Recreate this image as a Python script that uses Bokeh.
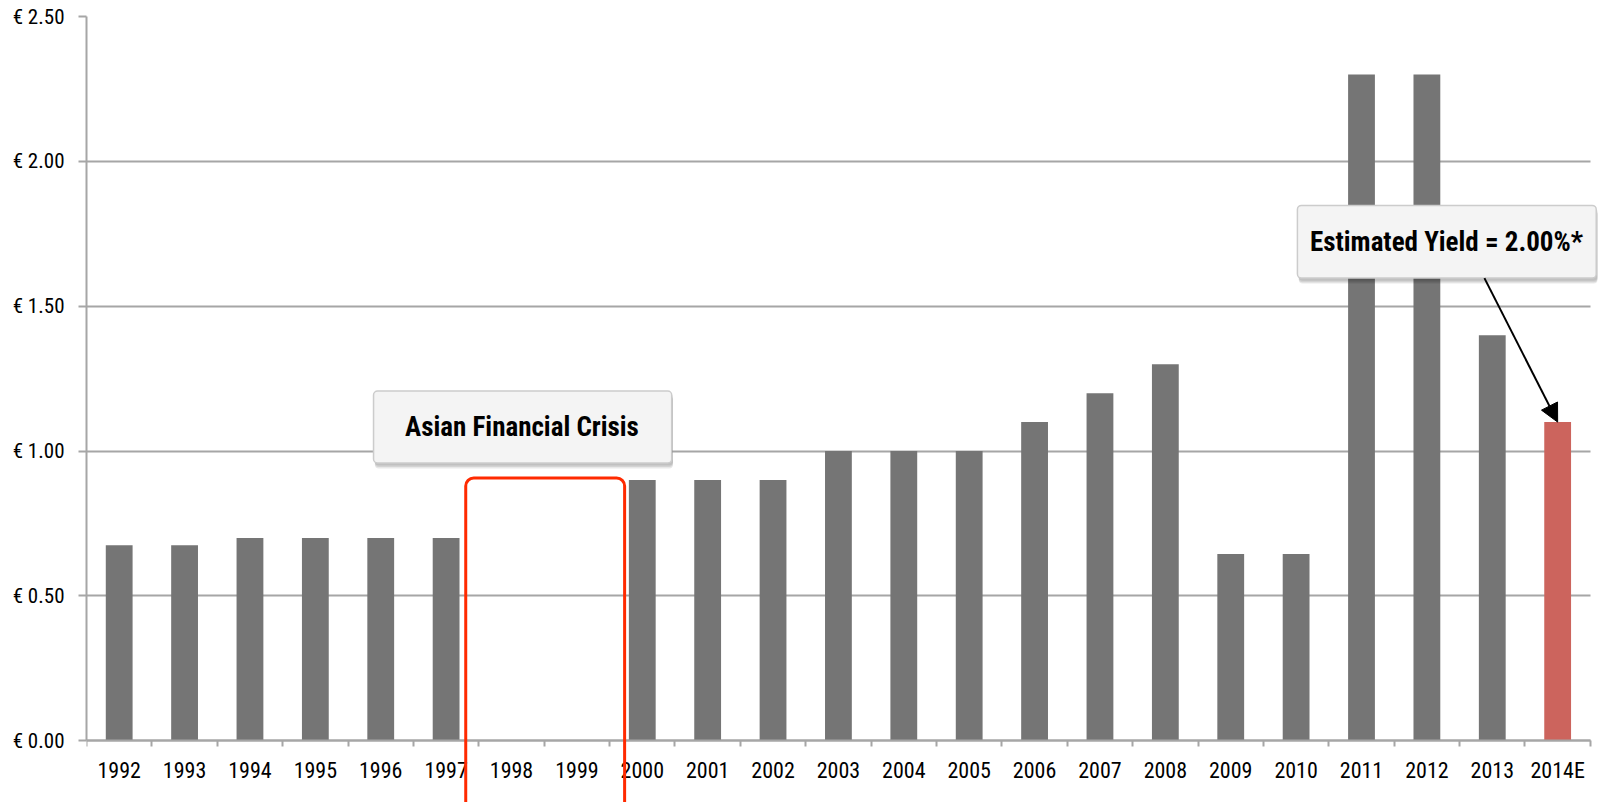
from bokeh.plotting import figure
from bokeh.models import (ColumnDataSource, FixedTicker, BoxAnnotation, Label,
                          Arrow, NormalHead)
from bokeh.embed import file_html
from bokeh.resources import INLINE

# Dividend per share, euros
years = ["1992", "1993", "1994", "1995", "1996", "1997", "1998", "1999",
         "2000", "2001", "2002", "2003", "2004", "2005", "2006", "2007",
         "2008", "2009", "2010", "2011", "2012", "2013", "2014E"]
dividends = [0.675, 0.675, 0.70, 0.70, 0.70, 0.70, 0.0, 0.0,
             0.90, 0.90, 0.90, 1.00, 1.00, 1.00, 1.10, 1.20,
             1.30, 0.645, 0.645, 2.30, 2.30, 1.40, 1.10]
y_ticks = [0.0, 0.5, 1.0, 1.5, 2.0, 2.5]
y_tick_labels = ["€ 0.00", "€ 0.50", "€ 1.00", "€ 1.50", "€ 2.00", "€ 2.50"]

crisis_years = ["1998", "1999"]
estimate_year = "2014E"
crisis_label = "Asian Financial Crisis"
estimate_label = "Estimated Yield = 2.00%*"

FONT = "Roboto Condensed, DejaVu Sans Condensed, sans-serif"
BAR = "#757575"
EST = "#cc645d"
GRID = "#a6a6a6"

n = len(years)
centers = [i + 0.5 for i in range(n)]
colors = [EST if y == estimate_year else BAR for y in years]
src = ColumnDataSource(dict(x=centers, top=dividends, color=colors))

# the frame runs to the bottom/right page edges so the callouts are not clipped;
# the x axis sits at zero inside it
p = figure(width=1599, height=802, x_range=(0, 23.14), y_range=(-0.213, 2.5),
           output_backend="svg", toolbar_location=None,
           min_border_left=86, min_border_right=0,
           min_border_top=16, min_border_bottom=0)
p.outline_line_color = None
p.background_fill_color = "white"
p.border_fill_color = "white"

p.vbar(x="x", top="top", width=0.41, bottom=0, fill_color="color",
       line_color=None, source=src)

# y axis
p.yaxis.ticker = FixedTicker(ticks=y_ticks, minor_ticks=[])
p.yaxis.bounds = (0, 2.5)
p.yaxis.major_label_overrides = {t: l for t, l in zip(y_ticks, y_tick_labels)}
p.yaxis.axis_line_color = GRID
p.yaxis.axis_line_width = 2
p.yaxis.major_tick_line_color = GRID
p.yaxis.major_tick_line_width = 2
p.yaxis.major_tick_out = 8
p.yaxis.major_tick_in = 0
p.yaxis.major_label_standoff = 14
p.yaxis.major_label_text_font = FONT
p.yaxis.major_label_text_font_size = "21px"
p.yaxis.major_label_text_color = "black"

# x axis: labels at bar centres, tick marks between categories
p.xaxis.fixed_location = 0
p.xaxis.bounds = (0, n)
p.xaxis.ticker = FixedTicker(ticks=centers, minor_ticks=list(range(n + 1)))
p.xaxis.major_label_overrides = {c: y for c, y in zip(centers, years)}
p.xaxis.axis_line_color = GRID
p.xaxis.axis_line_width = 2
p.xaxis.major_tick_line_color = None
p.xaxis.major_tick_out = 6
p.xaxis.major_tick_in = 0
p.xaxis.minor_tick_line_color = GRID
p.xaxis.minor_tick_line_width = 2
p.xaxis.minor_tick_out = 6
p.xaxis.minor_tick_in = 0
p.xaxis.major_label_standoff = 11
p.xaxis.major_label_text_font = FONT
p.xaxis.major_label_text_font_size = "22px"
p.xaxis.major_label_text_color = "black"

p.xgrid.grid_line_color = None
p.ygrid.grid_line_color = GRID
p.ygrid.grid_line_width = 2
p.ygrid.bounds = (0, 2.5)
if "cross_bounds" in p.ygrid[0].properties():
    p.ygrid.cross_bounds = (0, n)

# crisis outline around the missing years
c0 = years.index(crisis_years[0])
c1 = years.index(crisis_years[-1])
p.add_layout(BoxAnnotation(left=c0 - 0.2, right=c1 + 1.23, top=0.907, bottom=-0.4,
                           fill_alpha=0, line_color="#ff2a00", line_alpha=1,
                           line_width=3, border_radius=8, level="overlay"))


def callout(left, right, top, bottom, text, tx, ty):
    # soft drop shadow
    for k in range(3):
        d = 0.005 * (k + 1)
        p.add_layout(BoxAnnotation(left=left + 0.02, right=right + 0.02,
                                   top=top - d - 0.004, bottom=bottom - d - 0.004,
                                   fill_color="#000000", fill_alpha=0.09,
                                   line_color=None, border_radius=4, level="overlay"))
    p.add_layout(BoxAnnotation(left=left, right=right, top=top, bottom=bottom,
                               fill_color="#f4f4f4", fill_alpha=1,
                               line_color="#cccccc", line_alpha=1, line_width=1.5,
                               border_radius=4, level="overlay"))
    p.add_layout(Label(x=tx, y=ty, text=text, text_align="center",
                       text_baseline="middle", text_font=FONT,
                       text_font_style="bold", text_font_size="27px",
                       text_color="black", level="overlay"))


callout(4.39, 8.95, 1.207, 0.959, crisis_label, 6.66, 1.083)
callout(18.52, 23.09, 1.848, 1.597, estimate_label, 20.80, 1.722)

ei = years.index(estimate_year)
p.add_layout(Arrow(x_start=21.38, y_start=1.597, x_end=centers[ei], y_end=dividends[ei],
                   line_color="black", line_width=2,
                   end=NormalHead(size=18, fill_color="black", line_color="black"),
                   level="overlay"))

open("out.html", "w").write(file_html(p, INLINE))
